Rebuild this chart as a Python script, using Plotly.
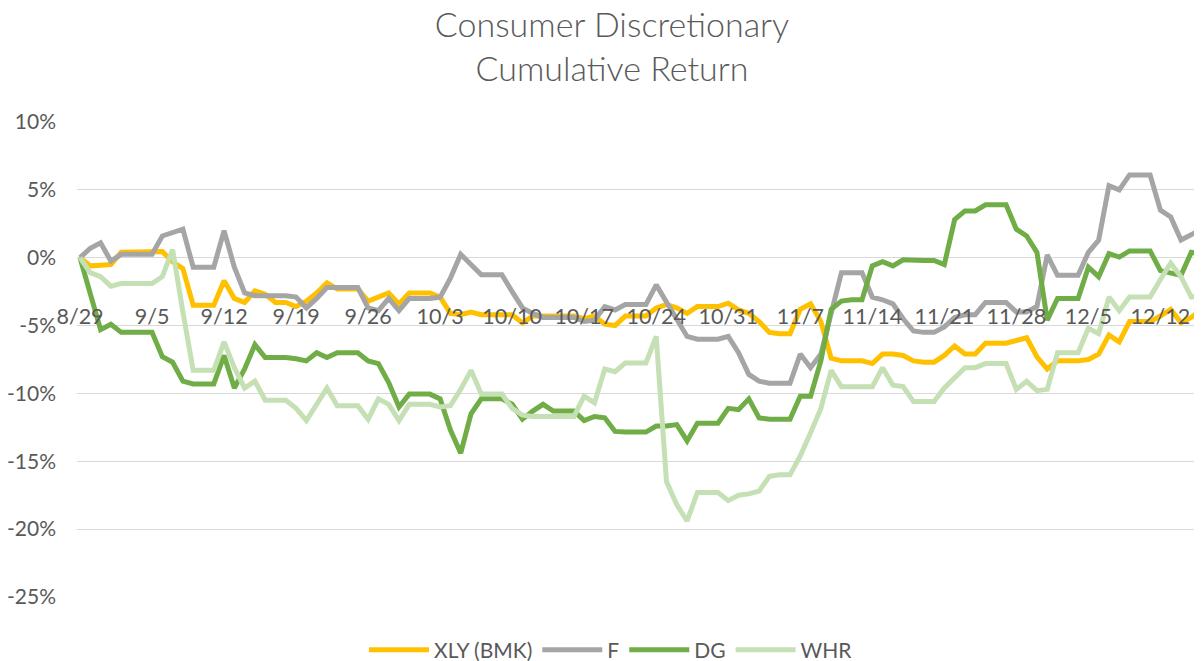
import pandas as pd
import plotly.graph_objects as go

start_date = "2016-08-29"
end_date = "2016-12-16"

xly = [0, -0.6, -0.55, -0.5, 0.4, 0.4, 0.4, 0.4, 0.45, -0.3, -0.8, -3.5, -3.5, -3.5, -1.7, -3.0,
       -3.3, -2.45, -2.7, -3.3, -3.3, -3.6, -3.2, -2.6, -1.85, -2.3, -2.3, -2.3, -3.2, -2.9,
       -2.6, -3.4, -2.6, -2.6, -2.6, -2.9, -4.1, -4.2, -4.0, -4.2, -4.2, -4.2, -4.2, -4.8,
       -4.3, -4.3, -4.3, -4.3, -4.3, -4.5, -4.3, -4.9, -5.0, -4.3, -4.3, -4.3, -3.7, -3.45,
       -3.7, -4.1, -3.6, -3.6, -3.6, -3.35, -3.85, -4.1, -4.7, -5.5, -5.6, -5.6, -3.8, -3.4,
       -4.7, -7.4, -7.6, -7.6, -7.6, -7.8, -7.1, -7.1, -7.2, -7.6, -7.7, -7.7, -7.2, -6.5,
       -7.1, -7.1, -6.3, -6.3, -6.3, -6.1, -5.9, -7.3, -8.2, -7.6, -7.6, -7.6, -7.5, -7.1,
       -5.7, -6.2, -4.7, -4.7, -4.7, -4.3, -3.8, -4.8, -4.4, -3.8]

f_vals = [0, 0.7, 1.1, -0.25, 0.25, 0.25, 0.25, 0.25, 1.6, 1.85, 2.1, -0.7, -0.7, -0.7, 2.0, -0.7,
          -2.6, -2.8, -2.8, -2.8, -2.8, -2.9, -3.7, -3.0, -2.2, -2.2, -2.2, -2.2, -3.7, -3.9,
          -3.0, -3.9, -3.0, -3.0, -3.0, -2.9, -1.5, 0.25, -0.5, -1.25, -1.25, -1.25, -2.5, -3.7,
          -4.1, -4.4, -4.4, -4.4, -4.4, -4.7, -4.6, -3.6, -3.85, -3.45, -3.45, -3.45, -2.0, -3.3,
          -4.5, -5.8, -6.0, -6.0, -6.0, -5.8, -7.0, -8.6, -9.1, -9.25, -9.25, -9.25, -7.1, -8.1,
          -7.1, -4.0, -1.1, -1.1, -1.1, -2.9, -3.1, -3.4, -4.5, -5.4, -5.5, -5.5, -5.1, -4.4,
          -4.2, -4.2, -3.3, -3.3, -3.3, -4.0, -4.0, -3.6, 0.2, -1.3, -1.3, -1.3, 0.4, 1.3,
          5.3, 5.0, 6.1, 6.1, 6.1, 3.5, 3.0, 1.3, 1.7, 2.1]

dg = [0, -2.7, -5.3, -4.9, -5.5, -5.5, -5.5, -5.5, -7.3, -7.7, -9.1, -9.3, -9.3, -9.3, -7.2, -9.6,
      -8.2, -6.4, -7.35, -7.35, -7.35, -7.45, -7.6, -7.0, -7.35, -7.0, -7.0, -7.0, -7.6, -7.8,
      -9.2, -11.0, -10.05, -10.05, -10.05, -10.4, -12.7, -14.4, -11.5, -10.4, -10.4, -10.4, -10.8, -11.9,
      -11.3, -10.8, -11.3, -11.3, -11.3, -12.0, -11.7, -11.8, -12.8, -12.85, -12.85, -12.85, -12.4, -12.4,
      -12.3, -13.5, -12.2, -12.2, -12.2, -11.1, -11.2, -10.4, -11.8, -11.9, -11.9, -11.9, -10.2, -10.2,
      -7.6, -3.8, -3.2, -3.1, -3.1, -0.6, -0.3, -0.6, -0.15, -0.2, -0.2, -0.2, -0.5, 2.8,
      3.45, 3.45, 3.9, 3.9, 3.9, 2.1, 1.6, 0.4, -4.6, -3.0, -3.0, -3.0, -0.7, -1.4,
      0.3, 0.05, 0.5, 0.5, 0.5, -0.95, -1.1, -1.3, 0.4, 0.3]

whr = [0, -1.1, -1.4, -2.1, -1.9, -1.9, -1.9, -1.9, -1.4, 0.6, -4.0, -8.3, -8.3, -8.3, -6.2, -8.1,
       -9.6, -9.1, -10.5, -10.5, -10.5, -11.1, -12.0, -10.8, -9.6, -10.9, -10.9, -10.9, -11.9, -10.4,
       -10.8, -12.0, -10.8, -10.8, -10.8, -11.0, -10.9, -9.7, -8.3, -10.05, -10.05, -10.05, -11.1, -11.6,
       -11.7, -11.7, -11.7, -11.7, -11.7, -10.2, -10.7, -8.2, -8.4, -7.75, -7.75, -7.75, -5.8, -16.5,
       -18.2, -19.4, -17.3, -17.3, -17.3, -17.9, -17.5, -17.4, -17.2, -16.1, -16.0, -16.0, -14.6, -12.9,
       -11.1, -8.3, -9.5, -9.5, -9.5, -9.5, -8.1, -9.4, -9.5, -10.6, -10.6, -10.6, -9.6, -8.8,
       -8.1, -8.1, -7.8, -7.8, -7.8, -9.7, -9.1, -9.8, -9.7, -7.0, -7.0, -7.0, -5.2, -5.6,
       -2.9, -3.9, -2.9, -2.9, -2.9, -1.6, -0.4, -1.4, -2.9, -2.8]

series_names = ["XLY (BMK)", "F", "DG", "WHR"]
series_colors = ["#FFC000", "#A5A5A5", "#70AD47", "#C5E0B4"]
series_values = [xly, f_vals, dg, whr]

y_tick_vals = [10, 5, 0, -5, -10, -15, -20, -25]
y_tick_text = ["10%", "5%", "0%", "-5%", "-10%", "-15%", "-20%", "-25%"]

dates = pd.date_range(start_date, end_date, freq="D")

fig = go.Figure()
for name, color, vals in zip(series_names, series_colors, series_values):
    fig.add_trace(go.Scatter(x=dates[:len(vals)], y=vals, mode="lines", name=name,
                             line=dict(color=color, width=5)))

txt = "#595959"
font_family = "Lato, 'Open Sans', sans-serif"
y_min, y_max = -25, 10
W, H = 1194, 653  # page body adds an 8px offset

fig.update_layout(
    width=W, height=H,
    margin=dict(l=69, r=0, t=114, b=64, autoexpand=False),
    paper_bgcolor="white", plot_bgcolor="white",
    font=dict(family=font_family, color=txt, size=21),
    title=dict(text="Consumer Discretionary<br>Cumulative Return",
               x=604 / W, xanchor="center", xref="container",
               y=1 - 29 / H, yanchor="middle", yref="container",
               font=dict(family=font_family, size=34, color=txt, weight=300)),
    showlegend=True,
    legend=dict(orientation="h", x=603 / W, xanchor="center", xref="container",
                y=1 - 642 / H, yanchor="middle", yref="container",
                font=dict(size=21, color=txt), itemwidth=60, traceorder="normal"),
    xaxis=dict(
        type="date",
        range=[pd.Timestamp(start_date) - pd.Timedelta(hours=7),
               pd.Timestamp(end_date) + pd.Timedelta(hours=1)],
        tick0=start_date, dtick=7 * 24 * 3600 * 1000, tickformat="%-m/%-d",
        showgrid=False, showline=False, zeroline=False,
        ticks="outside", ticklen=39, tickcolor="rgba(0,0,0,0)",
        anchor="free", position=(0 - y_min) / (y_max - y_min),
        tickfont=dict(size=21.5, color=txt),
    ),
    yaxis=dict(
        range=[y_min, y_max],
        tickmode="array", tickvals=y_tick_vals, ticktext=y_tick_text,
        showgrid=True, gridcolor="#D9D9D9", gridwidth=1.3,
        zeroline=False, showline=False, ticks="",
        tickfont=dict(size=21, color=txt), ticklabelstandoff=20,
    ),
)

fig.write_html("out.html")
